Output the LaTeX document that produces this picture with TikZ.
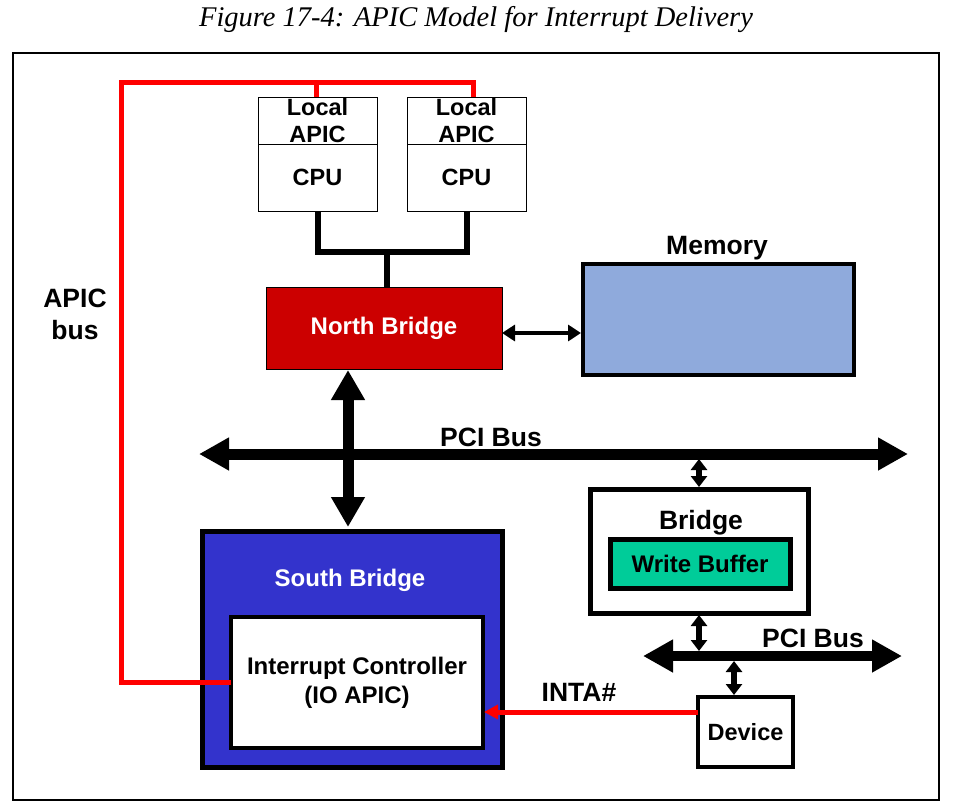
\documentclass[tikz,border=0pt]{standalone}
\usepackage{fontspec}
\setmainfont{Liberation Sans}
\newfontfamily\titlefont{Liberation Serif}
\usetikzlibrary{arrows.meta,calc}
\definecolor{nbred}{HTML}{CC0000}
\definecolor{memblue}{HTML}{8FAADC}
\definecolor{sbblue}{HTML}{3333CC}
\definecolor{wbgreen}{HTML}{00CC99}
\definecolor{apicred}{HTML}{FF0000}
\tikzset{
  thinbox/.style={draw=black, line width=1pt, fill=white, inner sep=0pt, outer sep=0pt, align=center, font=\bfseries\fontsize{23.5}{27}\selectfont},
  heavybox/.style={draw=black, line width=5pt, inner sep=0pt, outer sep=0pt, align=center},
  lbl/.style={inner sep=0pt, align=center, font=\bfseries\fontsize{26.5}{32}\selectfont},
  cpuline/.style={line width=6pt, line join=miter, draw=black},
  apicline/.style={line width=5pt, draw=apicred, line join=miter},
  bigbus/.style={line width=11pt, draw=black, {Triangle[width=31pt,length=30pt]}-{Triangle[width=31pt,length=30pt]}},
  smallbus/.style={line width=5.5pt, draw=black, {Triangle[width=16pt,length=11pt]}-{Triangle[width=16pt,length=11pt]}},
}
\begin{document}
\begin{tikzpicture}[x=1pt,y=-1pt]
\useasboundingbox[fill=white] (0,0) rectangle (953,811);
% title and frame
\node[inner sep=0pt] (title) at (476,20) {\titlefont\itshape\fontsize{28.5}{30}\selectfont Figure 17-4: APIC Model for Interrupt Delivery};
\draw[line width=1.5pt] (13,53) rectangle (939,800);

% CPUs
\node[thinbox, minimum width=119pt, minimum height=47pt] (lapic1) at (317.5,120.5) {Local\\APIC};
\node[thinbox, minimum width=119pt, minimum height=67pt] (cpu1) at (317.5,177.5) {CPU};
\node[thinbox, minimum width=119pt, minimum height=47pt] (lapic2) at (466.5,120.5) {Local\\APIC};
\node[thinbox, minimum width=119pt, minimum height=67pt] (cpu2) at (466.5,177.5) {CPU};

% North bridge
\node[draw=black, line width=1pt, fill=nbred, inner sep=0pt, outer sep=0pt, minimum width=236pt, minimum height=82pt, text=white, font=\bfseries\fontsize{24}{28}\selectfont] (nb) at (384,328) {North Bridge};

% Memory
\node[heavybox, line width=4.5pt, fill=memblue, minimum width=271pt, minimum height=111pt] (mem) at (718.5,319.5) {};
\node[lbl] (memlbl) at (717,248) {Memory};

% South bridge
\node[heavybox, fill=sbblue, minimum width=300pt, minimum height=236pt] (sb) at (352,649) {};
\node[lbl, text=white, font=\bfseries\fontsize{24}{28}\selectfont] (sblbl) at (350,580) {South Bridge};
\node[heavybox, line width=3.5pt, fill=white, minimum width=252pt, minimum height=131pt, font=\bfseries\fontsize{24}{29}\selectfont] (ic) at (357,682.5) {Interrupt Controller\\(IO APIC)};

% Bridge
\node[heavybox, fill=white, minimum width=218pt, minimum height=124pt] (br) at (699,551) {};
\node[lbl] (brlbl) at (701,523) {Bridge};
\node[heavybox, fill=wbgreen, minimum width=180pt, minimum height=49pt, font=\bfseries\fontsize{24}{28}\selectfont] (wb) at (700,563.5) {Write Buffer};

% Device
\node[heavybox, line width=4.5pt, fill=white, minimum width=95pt, minimum height=70pt, font=\bfseries\fontsize{23.5}{28}\selectfont] (dev) at (745.5,732) {Device};

% labels
\node[lbl] (apiclbl) at (75,314) {APIC\\bus};
\node[lbl] (pci1lbl) at (491,437) {PCI Bus};
\node[lbl] (pci2lbl) at (813,638) {PCI Bus};
\node[lbl] (intalbl) at (579,692) {INTA\#};

% CPU to north bridge
\coordinate (cj) at (387,252);
\draw[cpuline] (cpu1.south) -- (cpu1.south |- cj) -- (cpu2.south |- cj) -- (cpu2.south);
\draw[cpuline] (cj) -- (nb.north -| cj);

% APIC bus
\coordinate (abl) at (121,82);
\coordinate (t1) at (316,82);
\coordinate (t2) at (473,82);
\draw[apicline] (ic.west) -| (abl) -- (t2) -- (t2 |- lapic2.north);
\draw[apicline] (t1) -- (t1 |- lapic1.north);

% memory link
\coordinate (ma) at (0,333);
\draw[line width=4pt, {Triangle[width=16pt,length=13pt]}-{Triangle[width=16pt,length=13pt]}, shorten >=2pt] (nb.east |- ma) -- (mem.west |- ma);

% PCI buses
\coordinate (p1l) at (199,454);
\coordinate (p1r) at (908,454);
\draw[bigbus] (p1l) -- (p1r);
\coordinate (p2l) at (643,656);
\coordinate (p2r) at (902,656);
\draw[bigbus, line width=10pt] (p2l) -- (p2r);

% north bridge - south bridge
\coordinate (vx) at (348,0);
\draw[bigbus, shorten <=1pt, shorten >=4pt, {Triangle[width=32pt,length=30pt]}-{Triangle[width=32pt,length=30pt]}] (nb.south -| vx) -- (sb.north -| vx);

% small links
\coordinate (s1) at (699,459);
\draw[smallbus, shorten >=2pt] (s1) -- (s1 |- br.north);
\coordinate (s2) at (699,651);
\draw[smallbus, shorten <=2pt] (s2 |- br.south) -- (s2);
\coordinate (s3) at (734,661);
\draw[smallbus, shorten >=2pt] (s3) -- (s3 |- dev.north);

% INTA#
\coordinate (inta) at (698,712);
\draw[apicline, -{Triangle[width=14pt,length=14pt]}, shorten >=1pt] (inta) -- (inta -| ic.east);
\end{tikzpicture}
\end{document}
